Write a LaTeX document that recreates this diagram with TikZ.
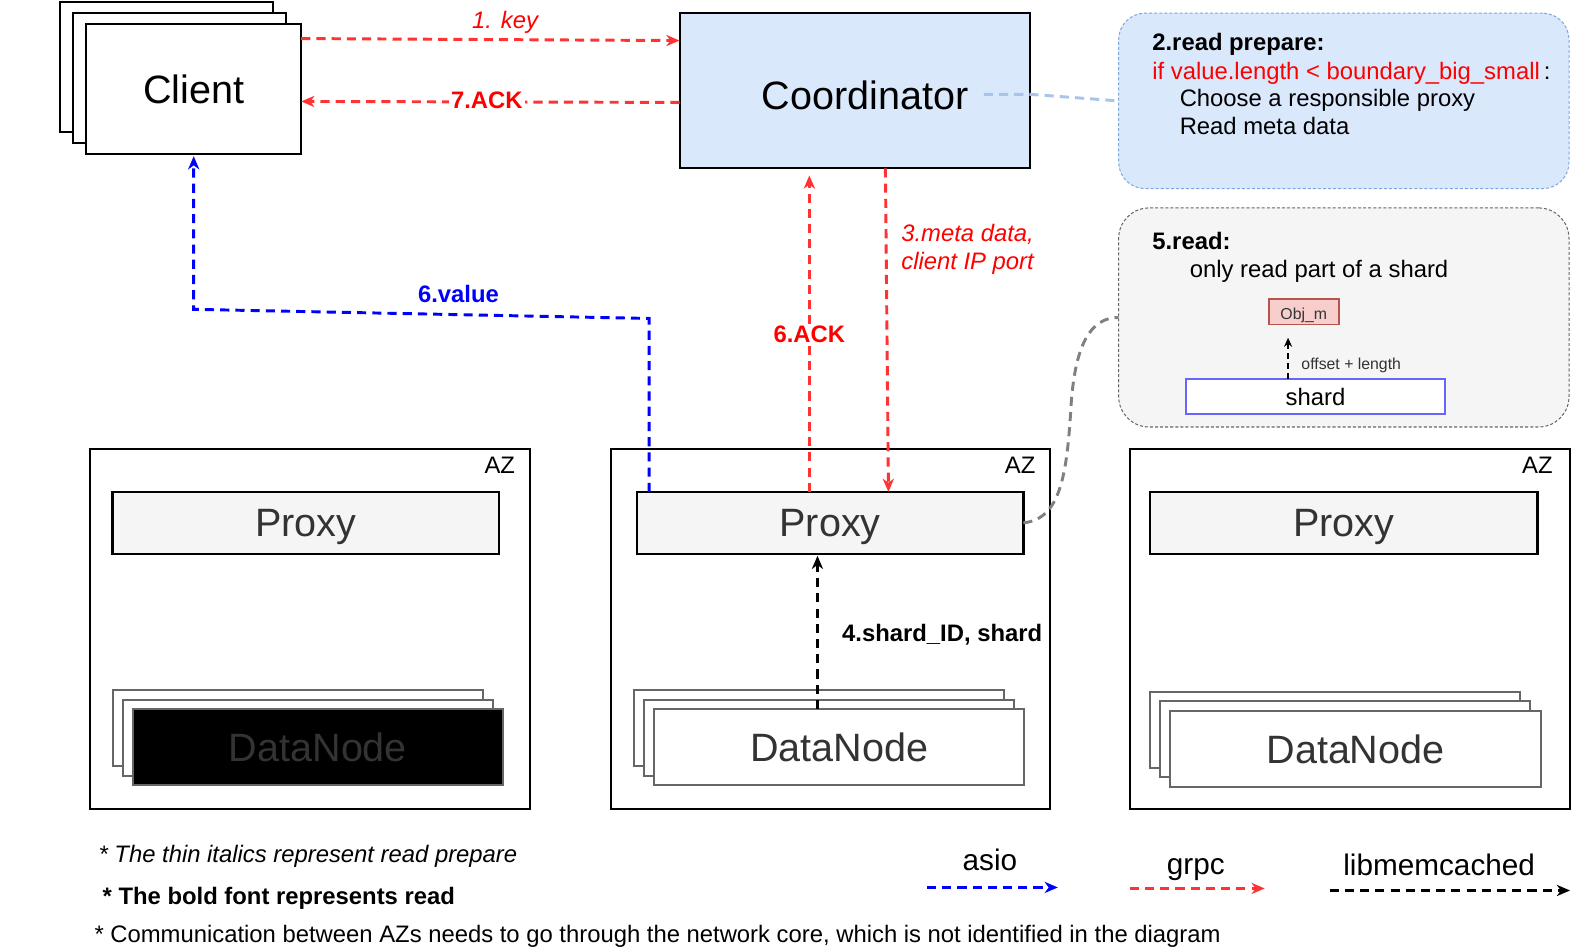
\documentclass[tikz,border=0pt]{standalone}
\usepackage{fontspec}
\setmainfont{Liberation Sans}
\usetikzlibrary{arrows.meta}
\definecolor{cred}{HTML}{FF3333}
\definecolor{tred}{HTML}{FF0000}
\definecolor{cblue}{HTML}{0000FF}
\definecolor{lblue}{HTML}{DAE8FC}
\definecolor{nborder}{HTML}{7EA6E0}
\definecolor{lconn}{HTML}{A9C4EB}
\definecolor{pfill}{HTML}{F5F5F5}
\definecolor{tgray}{HTML}{333333}
\definecolor{dgray}{HTML}{666666}
\definecolor{cgray}{HTML}{808080}
\definecolor{objfill}{HTML}{F8CECC}
\definecolor{objdraw}{HTML}{B85450}
\definecolor{shdraw}{HTML}{6666FF}
\newcommand\szBig{\fontsize{39}{46}\selectfont}
\newcommand\szMid{\fontsize{23.5}{27.5}\selectfont}
\newcommand\szLeg{\fontsize{29.3}{34}\selectfont}
\newcommand\szSm{\fontsize{15.6}{18}\selectfont}
\tikzset{
  rbox/.style={inner sep=0pt, outer sep=0pt, anchor=north west},
  blk/.style={rbox, draw=black, line width=2pt, fill=white},
  prx/.style={rbox, draw=black, line width=2.4pt, fill=pfill, text=tgray, font=\szBig, minimum width=381pt, minimum height=61pt, text height=27.7pt, text depth=0pt},
  dn/.style={rbox, draw=dgray, line width=2pt, fill=white, minimum width=365pt, minimum height=75pt},
  azbox/.style={rbox, draw=black, line width=2pt, minimum width=434pt, minimum height=355pt},
  azlab/.style={anchor=east, font=\szMid, inner sep=0pt},
  flow/.style={line width=2.9pt, dash pattern=on 9pt off 6pt, -{Stealth[length=13pt,width=11pt,inset=4pt]}},
  lab/.style={font=\szMid, inner sep=2pt},
  txt/.style={anchor=base west, inner sep=0pt, font=\szMid},
}
\begin{document}
\begin{tikzpicture}[x=1pt,y=-1pt]
\useasboundingbox (0,0) rectangle (1568.7,937.7);

% Client stack
\node[blk, minimum width=210pt, minimum height=128pt] (clb) at (59,2) {};
\node[blk, minimum width=210pt, minimum height=128pt] (clm) at (72,13) {};
\node[blk, minimum width=212pt, minimum height=128pt, font=\szBig] (cl) at (85,24) {Client};

% Coordinator
\node[rbox, draw=black, line width=2pt, fill=lblue, minimum width=346pt, minimum height=153pt, font=\szBig, text height=37.5pt, text depth=0pt] (co) at (670,13) {\hspace*{20pt}Coordinator};

% Notes
\node[rbox, draw=nborder, line width=1pt, dash pattern=on 3pt off 2pt, fill=lblue, rounded corners=26pt, minimum width=444pt, minimum height=173pt] (n2) at (1103,13) {};
\node[txt, font=\szMid\bfseries] (n2a) at (1136,50) {2.read prepare:};
\node[txt, text=tred] (n2b) at (1136,78) {if value.length < boundary\_big\_small\,\textcolor{black}{:}};
\node[txt] (n2c) at (1163,105) {Choose a responsible proxy};
\node[txt] (n2d) at (1163,133) {Read meta data};

\node[rbox, draw=dgray, line width=1pt, dash pattern=on 3pt off 2pt, fill=pfill, rounded corners=30pt, minimum width=444pt, minimum height=216pt] (n5) at (1103,205) {};
\node[txt, font=\szMid\bfseries] (n5a) at (1136,246) {5.read:};
\node[txt] (n5b) at (1173,274) {only read part of a shard};
\node[rbox, draw=objdraw, line width=1.5pt, fill=objfill, minimum width=69pt, minimum height=25pt, font=\szSm, text=tgray, text height=16pt, text depth=0pt] (obj) at (1251,295) {Obj\_m};
\node[rbox, draw=shdraw, line width=2pt, fill=white, minimum width=256pt, minimum height=34pt, font=\szMid] (sh) at (1169,374) {shard};
\coordinate (ol) at (1270,333);
\draw[line width=2pt, dash pattern=on 6pt off 4pt, -{Stealth[length=9pt,width=8pt,inset=3pt]}] (sh.north -| ol) -- (ol);
\node[anchor=west, font=\szSm, text=tgray, inner sep=0pt] (offl) at (1283,360) {offset + length};

% AZ boxes
\node[azbox] (laz) at (89,443) {};
\node[azbox, minimum width=433pt] (maz) at (602,443) {};
\node[azbox] (raz) at (1114,443) {};
\node[azlab] (lazl) at ([xshift=-15pt,yshift=-16pt]laz.north east) {AZ};
\node[azlab] (mazl) at ([xshift=-14pt,yshift=-16pt]maz.north east) {AZ};
\node[azlab] (razl) at ([xshift=-17pt,yshift=-16pt]raz.north east) {AZ};

% Proxies
\node[prx] (lprx) at (111,485) {Proxy};
\node[prx] (mprx) at (628,485) {Proxy};
\node[prx, minimum width=382pt] (rprx) at (1134,485) {Proxy};

% DataNode stacks
\node[dn] (ldn1) at (111,680) {};
\node[dn] (ldn2) at (121,690) {};
\node[dn, fill=black, text=tgray, font=\szBig] (ldn) at (131,699) {DataNode};
\node[dn] (mdn1) at (625,680) {};
\node[dn] (mdn2) at (635,690) {};
\node[dn, text=tgray, font=\szBig] (mdn) at (645,699) {DataNode};
\node[dn] (rdn1) at (1134,682) {};
\node[dn] (rdn2) at (1144,691) {};
\node[dn, text=tgray, font=\szBig] (rdn) at (1154,701) {DataNode};

% connectors
\draw[flow, cred] ([yshift=-14pt]cl.north east) -- ([yshift=-27pt]co.north west);
\node[lab, text=tred, font=\szMid\itshape] (l1) at (498,22) {1. key};
\draw[flow, cred] ([yshift=-88pt]co.north west) -- ([yshift=-12pt]cl.east);
\node[lab, text=tred, font=\szMid\bfseries, fill=white] (l7) at (480,99) {7.ACK};

\coordinate (bv1) at (640,314);
\coordinate (bv2) at (191,305);
\draw[flow, cblue, shorten >=2pt] (mprx.north -| bv1) -- (bv1) -- (bv2) -- (cl.south);
\node[lab, text=cblue, font=\szMid\bfseries] (l6v) at (452,290) {6.value};

\coordinate (a6) at (798,173);
\draw[flow, cred] (mprx.north -| a6) -- (a6);
\node[lab, text=tred, font=\szMid\bfseries, fill=white] (l6a) at (798,330) {6.ACK};

\coordinate (m3a) at (873,0);
\coordinate (m3b) at (876,0);
\draw[flow, cred] (co.south -| m3a) -- (mprx.north -| m3b);
\node[lab, text=tred, font=\szMid\itshape, align=center] (l3) at (954,246) {3.meta data,\\client IP port};

\coordinate (s4) at (806,0);
\draw[flow, black, shorten >=2pt] (mdn.north -| s4) -- (mprx.south -| s4);
\node[lab, font=\szMid\bfseries] (l4) at (929,626) {4.shard\_ID, shard};

% note connectors
\coordinate (nc) at (970,93);
\draw[lconn, line width=2.9pt, dash pattern=on 9pt off 6pt] (nc) -- (1016,93) -- (n2.west);
\draw[cgray, line width=2.9pt, dash pattern=on 9pt off 6pt] (mprx.east) .. controls (1045,512) and (1052,470) .. (1056,400) .. controls (1060,340) and (1075,313) .. (n5.west);

% legend
\coordinate (la1) at (914,875); \coordinate (la2) at (1043,875);
\coordinate (lg1) at (1114,876); \coordinate (lg2) at (1247,876);
\coordinate (lm1) at (1311,878); \coordinate (lm2) at (1548,878);
\draw[flow, cblue] (la1) -- (la2);
\draw[flow, cred] (lg1) -- (lg2);
\draw[flow, black] (lm1) -- (lm2);
\node[anchor=base, font=\szLeg, inner sep=0pt] (lasio) at (976,858) {asio};
\node[anchor=base, font=\szLeg, inner sep=0pt] (lgrpc) at (1179,862) {grpc};
\node[anchor=base, font=\szLeg, inner sep=0pt] (lmem) at (1419,863) {libmemcached};

% footnotes
\node[txt, font=\szMid\itshape] (f1) at (97,850) {* The thin italics represent read prepare};
\node[txt, font=\szMid\bfseries] (f2) at (101,892) {* The bold font represents read};
\node[txt] (f3) at (93,929) {* Communication between AZs needs to go through the network core, which is not identified in the diagram};
\end{tikzpicture}
\end{document}
